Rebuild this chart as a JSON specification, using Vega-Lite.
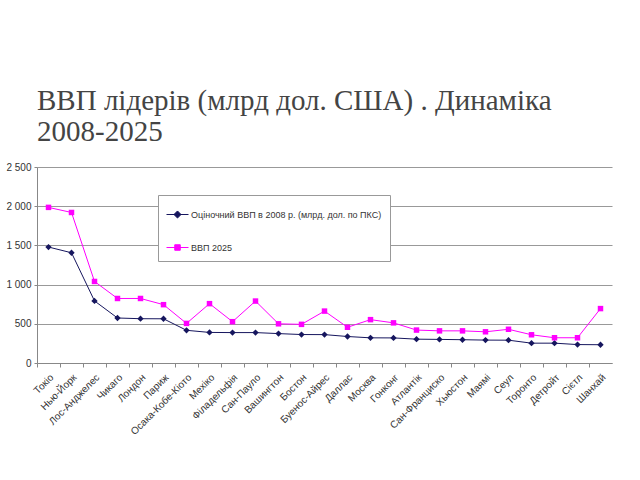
{
  "$schema": "https://vega.github.io/schema/vega-lite/v6.json",
  "width": 575,
  "height": 196,
  "autosize": {"type": "none"},
  "padding": {"left": 37, "top": 167, "right": 28, "bottom": 117},
  "background": "white",
  "title": {
    "text": ["ВВП лідерів (млрд дол. США) . Динаміка", "2008-2025"],
    "anchor": "start",
    "frame": "group",
    "font": "Liberation Serif",
    "fontSize": 29,
    "fontWeight": "normal",
    "color": "#444444",
    "lineHeight": 31,
    "offset": 15
  },
  "data": {
    "values": [
      {"city": "Токіо", "series": "Оціночний ВВП в 2008 р. (млрд. дол. по ПКС)", "value": 1479},
      {"city": "Нью-Йорк", "series": "Оціночний ВВП в 2008 р. (млрд. дол. по ПКС)", "value": 1406},
      {"city": "Лос-Анджелес", "series": "Оціночний ВВП в 2008 р. (млрд. дол. по ПКС)", "value": 792},
      {"city": "Чикаго", "series": "Оціночний ВВП в 2008 р. (млрд. дол. по ПКС)", "value": 574},
      {"city": "Лондон", "series": "Оціночний ВВП в 2008 р. (млрд. дол. по ПКС)", "value": 565},
      {"city": "Париж", "series": "Оціночний ВВП в 2008 р. (млрд. дол. по ПКС)", "value": 564},
      {"city": "Осака-Кобе-Кіото", "series": "Оціночний ВВП в 2008 р. (млрд. дол. по ПКС)", "value": 417},
      {"city": "Мехіко", "series": "Оціночний ВВП в 2008 р. (млрд. дол. по ПКС)", "value": 390},
      {"city": "Філадельфія", "series": "Оціночний ВВП в 2008 р. (млрд. дол. по ПКС)", "value": 388},
      {"city": "Сан-Пауло", "series": "Оціночний ВВП в 2008 р. (млрд. дол. по ПКС)", "value": 388},
      {"city": "Вашингтон", "series": "Оціночний ВВП в 2008 р. (млрд. дол. по ПКС)", "value": 375},
      {"city": "Бостон", "series": "Оціночний ВВП в 2008 р. (млрд. дол. по ПКС)", "value": 363},
      {"city": "Буенос-Айрес", "series": "Оціночний ВВП в 2008 р. (млрд. дол. по ПКС)", "value": 362},
      {"city": "Даллас", "series": "Оціночний ВВП в 2008 р. (млрд. дол. по ПКС)", "value": 338},
      {"city": "Москва", "series": "Оціночний ВВП в 2008 р. (млрд. дол. по ПКС)", "value": 321},
      {"city": "Гонконг", "series": "Оціночний ВВП в 2008 р. (млрд. дол. по ПКС)", "value": 320},
      {"city": "Атлантік", "series": "Оціночний ВВП в 2008 р. (млрд. дол. по ПКС)", "value": 304},
      {"city": "Сан-Франциско", "series": "Оціночний ВВП в 2008 р. (млрд. дол. по ПКС)", "value": 301},
      {"city": "Хьюстон", "series": "Оціночний ВВП в 2008 р. (млрд. дол. по ПКС)", "value": 297},
      {"city": "Маямі", "series": "Оціночний ВВП в 2008 р. (млрд. дол. по ПКС)", "value": 292},
      {"city": "Сеул", "series": "Оціночний ВВП в 2008 р. (млрд. дол. по ПКС)", "value": 291},
      {"city": "Торонто", "series": "Оціночний ВВП в 2008 р. (млрд. дол. по ПКС)", "value": 253},
      {"city": "Детройт", "series": "Оціночний ВВП в 2008 р. (млрд. дол. по ПКС)", "value": 253},
      {"city": "Сієтл", "series": "Оціночний ВВП в 2008 р. (млрд. дол. по ПКС)", "value": 235},
      {"city": "Шанхай", "series": "Оціночний ВВП в 2008 р. (млрд. дол. по ПКС)", "value": 233},
      {"city": "Токіо", "series": "ВВП 2025", "value": 1985},
      {"city": "Нью-Йорк", "series": "ВВП 2025", "value": 1920},
      {"city": "Лос-Анджелес", "series": "ВВП 2025", "value": 1040},
      {"city": "Чикаго", "series": "ВВП 2025", "value": 823},
      {"city": "Лондон", "series": "ВВП 2025", "value": 823},
      {"city": "Париж", "series": "ВВП 2025", "value": 744},
      {"city": "Осака-Кобе-Кіото", "series": "ВВП 2025", "value": 505},
      {"city": "Мехіко", "series": "ВВП 2025", "value": 757},
      {"city": "Філадельфія", "series": "ВВП 2025", "value": 527},
      {"city": "Сан-Пауло", "series": "ВВП 2025", "value": 790},
      {"city": "Вашингтон", "series": "ВВП 2025", "value": 500},
      {"city": "Бостон", "series": "ВВП 2025", "value": 493},
      {"city": "Буенос-Айрес", "series": "ВВП 2025", "value": 662},
      {"city": "Даллас", "series": "ВВП 2025", "value": 456},
      {"city": "Москва", "series": "ВВП 2025", "value": 553},
      {"city": "Гонконг", "series": "ВВП 2025", "value": 512},
      {"city": "Атлантік", "series": "ВВП 2025", "value": 420},
      {"city": "Сан-Франциско", "series": "ВВП 2025", "value": 410},
      {"city": "Хьюстон", "series": "ВВП 2025", "value": 410},
      {"city": "Маямі", "series": "ВВП 2025", "value": 398},
      {"city": "Сеул", "series": "ВВП 2025", "value": 430},
      {"city": "Торонто", "series": "ВВП 2025", "value": 360},
      {"city": "Детройт", "series": "ВВП 2025", "value": 322},
      {"city": "Сієтл", "series": "ВВП 2025", "value": 322},
      {"city": "Шанхай", "series": "ВВП 2025", "value": 694}
    ]
  },
  "encoding": {
    "x": {
      "field": "city",
      "type": "nominal",
      "sort": null,
      "scale": {"type": "band", "paddingInner": 0, "paddingOuter": 0},
      "axis": {
        "title": null,
        "labelAngle": -45,
        "labelFont": "Liberation Sans",
        "labelFontSize": 10,
        "labelColor": "#333333",
        "bandPosition": 0,
        "tickSize": 4,
        "tickColor": "#888888",
        "domainColor": "#888888",
        "labelPadding": 5,
        "labelBound": false,
        "labelOverlap": false
      }
    },
    "y": {
      "field": "value",
      "type": "quantitative",
      "scale": {"domain": [0, 2500], "nice": false},
      "axis": {
        "title": null,
        "values": [0, 500, 1000, 1500, 2000, 2500],
        "labelExpr": "replace(format(datum.value, ','), ',', ' ')",
        "labelFont": "Liberation Sans",
        "labelFontSize": 10,
        "labelColor": "#333333",
        "tickSize": 3,
        "tickColor": "#888888",
        "domainColor": "#888888",
        "gridColor": "#999999",
        "gridOpacity": 1,
        "labelPadding": 3
      }
    },
    "color": {
      "field": "series",
      "type": "nominal",
      "scale": {
        "domain": ["Оціночний ВВП в 2008 р. (млрд. дол. по ПКС)", "ВВП 2025"],
        "range": ["#16165e", "#ff00ff"]
      },
      "legend": {
        "title": null,
        "orient": "none",
        "legendX": 121,
        "legendY": 28,
        "direction": "vertical",
        "fillColor": "white",
        "strokeColor": "#999999",
        "padding": 8,
        "rowPadding": 15,
        "labelFont": "Liberation Sans",
        "labelFontSize": 9,
        "labelColor": "#333333",
        "labelLimit": 400,
        "labelOffset": 2,
        "symbolSize": 484,
        "symbolStrokeWidth": 1,
        "symbolType": "M-1,0H1M0,-0.32L0.32,0L0,0.32L-0.32,0Z",
        "encode": {
          "symbols": {
            "update": {
              "shape": {"signal": "datum.value === 'ВВП 2025' ? 'M-1,0H1M-0.25,-0.25H0.25V0.25H-0.25Z' : 'M-1,0H1M0,-0.32L0.32,0L0,0.32L-0.32,0Z'"},
              "fill": {"signal": "scale('color', datum.value)"},
              "stroke": {"signal": "scale('color', datum.value)"},
              "strokeWidth": {"value": 1},
              "opacity": {"value": 1}
            }
          }
        }
      }
    }
  },
  "layer": [
    {
      "mark": {"type": "line", "strokeWidth": 1}
    },
    {
      "transform": [{"filter": "datum.series !== 'ВВП 2025'"}],
      "mark": {"type": "point", "filled": true, "opacity": 1, "shape": "diamond", "size": 40}
    },
    {
      "transform": [{"filter": "datum.series === 'ВВП 2025'"}],
      "mark": {"type": "point", "filled": true, "opacity": 1, "shape": "square", "size": 30}
    }
  ],
  "config": {
    "view": {"stroke": null},
    "axis": {"gridWidth": 1}
  }
}
